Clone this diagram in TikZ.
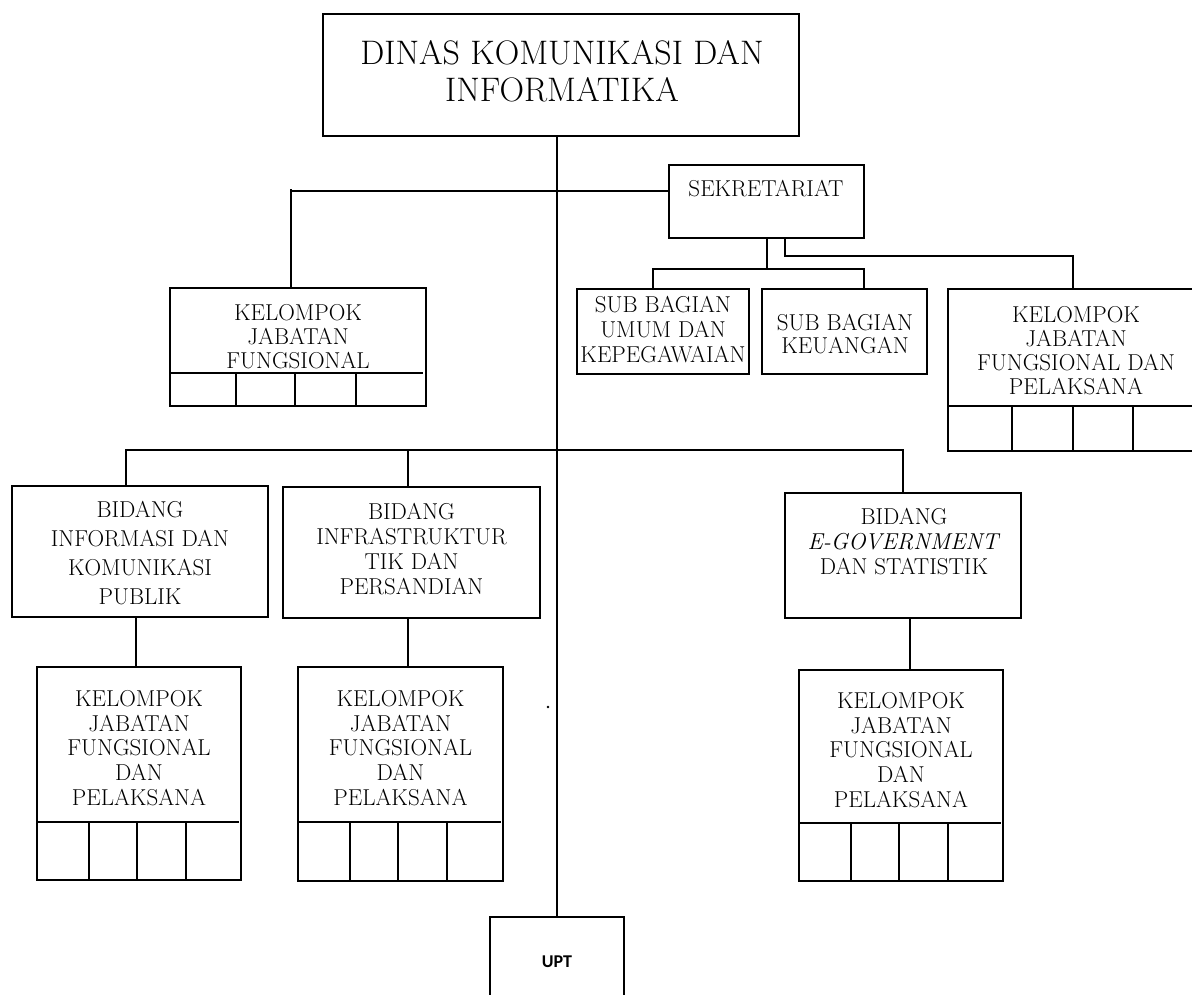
\documentclass[tikz,border=0pt]{standalone}
\usepackage{fontspec}
\newfontfamily\uptfont{Carlito}
\begin{document}
\begin{tikzpicture}[x=1pt,y=-1pt,
  box/.style={draw,line width=2pt,inner sep=0pt,outer sep=0pt,anchor=north west},
  thinbox/.style={draw,line width=1.1pt,inner sep=0pt,outer sep=0pt,anchor=north west},
  lbl/.style={align=center,inner sep=0pt,font=\fontsize{23}{24.6}\selectfont},
  conn/.style={line width=2pt},
  cell/.style={line width=2pt}]
\useasboundingbox (0,0) rectangle (1192,994);

% boxes
\node[box,minimum width=476pt,minimum height=122pt] (top) at (323,14) {};
\node[lbl,font=\fontsize{34}{37}\selectfont] (topt) at (562,71) {DINAS KOMUNIKASI DAN\\INFORMATIKA};

\node[box,minimum width=195pt,minimum height=73pt] (sek) at (669,165) {};
\node[lbl] (sekt) at (766,189) {SEKRETARIAT};

\node[box,minimum width=256pt,minimum height=118pt] (kjf) at (170,288) {};
\node[lbl,font=\fontsize{23}{24}\selectfont] (kjft) at (298,337) {KELOMPOK\\JABATAN\\FUNGSIONAL};
\draw[cell] (170,373) -- (423,373) (236,373) -- (236,406) (295,373) -- (295,406) (356,373) -- (356,406);

\node[thinbox,minimum width=172pt,minimum height=85pt] (sbu) at (577,289) {};
\node[lbl,font=\fontsize{23}{25}\selectfont] (sbut) at (663,330) {SUB BAGIAN\\UMUM DAN\\KEPEGAWAIAN};

\node[thinbox,minimum width=165pt,minimum height=85pt] (sbk) at (762,289) {};
\node[lbl,font=\fontsize{23}{23.5}\selectfont] (sbkt) at (845,334) {SUB BAGIAN\\KEUANGAN};

\node[box,minimum width=252pt,minimum height=162pt] (kjfp) at (948,289) {};
\node[lbl,font=\fontsize{23}{24}\selectfont] (kjfpt) at (1076,351) {KELOMPOK\\JABATAN\\FUNGSIONAL DAN\\PELAKSANA};
\draw[cell] (948,406) -- (1200,406) (1012,406) -- (1012,451) (1073,406) -- (1073,451) (1133,406) -- (1133,451);

\node[box,minimum width=256pt,minimum height=131pt] (bik) at (12,486) {};
\node[lbl,font=\fontsize{23}{29}\selectfont] (bikt) at (140,553) {BIDANG\\INFORMASI DAN\\KOMUNIKASI\\PUBLIK};

\node[box,minimum width=257pt,minimum height=131pt] (bit) at (283,487) {};
\node[lbl,font=\fontsize{23}{25}\selectfont] (bitt) at (411.5,549.5) {BIDANG\\INFRASTRUKTUR\\TIK DAN\\PERSANDIAN};

\node[box,minimum width=236pt,minimum height=125pt] (beg) at (785,493) {};
\node[lbl,font=\fontsize{23}{25}\selectfont] (begt) at (904,542) {BIDANG\\\textit{E-GOVERNMENT}\\DAN STATISTIK};

\node[box,minimum width=204pt,minimum height=213pt] (k1) at (37,667) {};
\node[lbl] (k1t) at (139,748) {KELOMPOK\\JABATAN\\FUNGSIONAL\\DAN\\PELAKSANA};
\draw[cell] (37,822) -- (239,822) (89,822) -- (89,880) (137,822) -- (137,880) (186,822) -- (186,880);

\node[box,minimum width=205pt,minimum height=214pt] (k2) at (298,667) {};
\node[lbl] (k2t) at (400.5,748) {KELOMPOK\\JABATAN\\FUNGSIONAL\\DAN\\PELAKSANA};
\draw[cell] (298,822) -- (501,822) (350,822) -- (350,881) (398,822) -- (398,881) (447,822) -- (447,881);

\node[box,minimum width=204pt,minimum height=211pt] (k3) at (799,670) {};
\node[lbl] (k3t) at (901,750) {KELOMPOK\\JABATAN\\FUNGSIONAL\\DAN\\PELAKSANA};
\draw[cell] (799,823) -- (1001,823) (851,823) -- (851,881) (899,823) -- (899,881) (948,823) -- (948,881);

\node[box,minimum width=134pt,minimum height=100pt] (upt) at (490,917) {};
\node[inner sep=0pt,font=\uptfont\bfseries\fontsize{18}{20}\selectfont] (uptt) at (557,962) {UPT};

% connectors
\draw[conn] (upt.north) -- (upt.north |- top.south);

\coordinate (jL) at (291,191);
\draw[conn] (sek.west |- jL) -- (jL);
\draw[conn] ([yshift=2pt]jL) -- (jL |- kjf.north);

\coordinate (s1) at (767,269);
\coordinate (sA) at (653,269);
\coordinate (sB) at (864,269);
\draw[conn] (s1 |- sek.south) -- (s1);
\draw[conn] (sA |- sbu.north) -- (sA) -- (sB) -- (sB |- sbk.north);

\coordinate (r1) at (785,256);
\coordinate (r2) at (1073,256);
\draw[conn] (r1 |- sek.south) -- (r1) -- (r2) -- (r2 |- kjfp.north);

\coordinate (b1) at (126,450);
\coordinate (b2) at (408,450);
\coordinate (b3) at (903,450);
\draw[conn] (b1 |- bik.north) -- (b1) -- (b3) -- (b3 |- beg.north);
\draw[conn] (b2) -- (b2 |- bit.north);

\coordinate (c1) at (136,0);
\coordinate (c2) at (408,0);
\coordinate (c3) at (910,0);
\draw[conn] (c1 |- bik.south) -- (c1 |- k1.north);
\draw[conn] (c2 |- bit.south) -- (c2 |- k2.north);
\draw[conn] (c3 |- beg.south) -- (c3 |- k3.north);

\fill (548,707) circle (1.3pt);
\end{tikzpicture}
\end{document}
